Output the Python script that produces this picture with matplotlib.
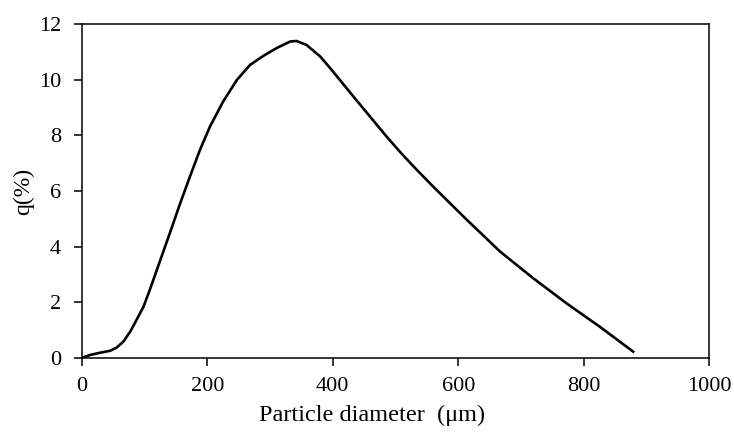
import matplotlib
matplotlib.use("Agg")
import matplotlib.pyplot as plt

# particle size distribution
diameter = [0, 13, 29, 45, 55, 66, 77, 87, 98, 108, 124, 140, 156, 172, 188,
            204, 225, 247, 268, 289, 310, 332, 342, 358, 380, 396, 433, 486,
            507, 528, 560, 614, 667, 720, 773, 826, 879]
q_pct = [0, 0.11, 0.19, 0.26, 0.37, 0.59, 0.95, 1.37, 1.84, 2.44, 3.46, 4.48,
         5.52, 6.51, 7.47, 8.31, 9.21, 9.99, 10.53, 10.85, 11.13, 11.37, 11.39,
         11.25, 10.83, 10.41, 9.39, 7.95, 7.41, 6.9, 6.16, 4.96, 3.82, 2.86,
         1.96, 1.12, 0.23]
x_ticks = [0, 200, 400, 600, 800, 1000]
y_ticks = [0, 2, 4, 6, 8, 10, 12]

plt.rcParams["font.family"] = ["Liberation Serif", "DejaVu Serif"]

fig = plt.figure(figsize=(7.34, 4.34), dpi=100)
ax = fig.add_axes([82/734, 1 - 358/434, (709 - 82)/734, (358 - 24)/434])
ax.plot(diameter, q_pct, color="black", lw=1.9, solid_joinstyle="round")

ax.set_xlim(0, 1000)
ax.set_ylim(0, 12)
ax.set_xticks(x_ticks)
ax.set_yticks(y_ticks)
ax.tick_params(direction="out", length=6, width=1.1, labelsize=16)
ax.tick_params(axis="x", pad=7.5)
ax.tick_params(axis="y", pad=9)
for s in ax.spines.values():
    s.set_linewidth(1.1)

ax.set_xlabel("Particle diameter  (μm)", fontsize=17.5)
ax.set_ylabel("q(%)", fontsize=17)
ax.xaxis.set_label_coords(0.4625, -0.14)
ax.yaxis.set_label_coords(-0.077, 0.5)

fig.savefig("out.png", dpi=100)
plt.close(fig)
